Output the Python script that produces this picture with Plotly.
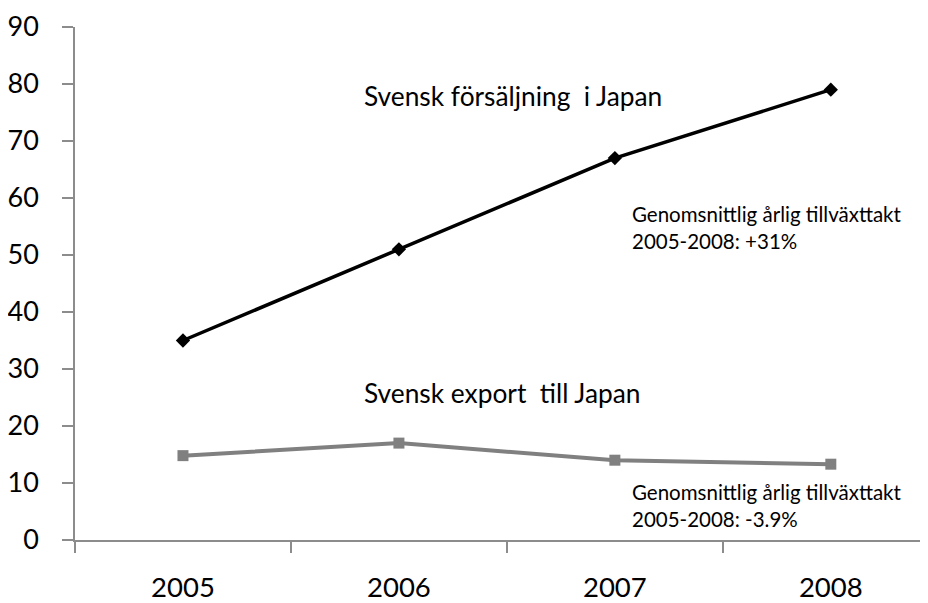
import plotly.graph_objects as go

years = ["2005", "2006", "2007", "2008"]
sales_japan = [35, 51, 67, 79]
export_japan = [14.8, 17, 14, 13.3]
y_ticks = [0, 10, 20, 30, 40, 50, 60, 70, 80, 90]

FONT = "Lato, Open Sans, sans-serif"

fig = go.Figure()
fig.add_trace(go.Scatter(
    x=years, y=sales_japan, mode="lines+markers",
    line=dict(color="#000000", width=3.5),
    marker=dict(symbol="diamond", size=11, color="#000000"),
    showlegend=False, hoverinfo="skip"))
fig.add_trace(go.Scatter(
    x=years, y=export_japan, mode="lines+markers",
    line=dict(color="#808080", width=4),
    marker=dict(symbol="square", size=11, color="#808080"),
    showlegend=False, hoverinfo="skip"))

fig.update_layout(
    width=920, height=595,
    margin=dict(l=67, r=0, t=19, b=63, autoexpand=False),
    plot_bgcolor="white", paper_bgcolor="white",
    font=dict(family=FONT, color="#000000"),
    xaxis=dict(
        type="category", range=[-0.5, 3.45], automargin=False,
        showline=True, linecolor="#8c8c8c", linewidth=1.5,
        ticks="outside", ticklen=11, tickcolor="#8c8c8c", tickwidth=1.5,
        tickson="boundaries", showgrid=False, zeroline=False,
        tickfont=dict(size=27.5, family=FONT), ticklabelstandoff=22),
    yaxis=dict(
        range=[0, 90], tickvals=y_ticks, automargin=False,
        showline=True, linecolor="#8c8c8c", linewidth=1.5,
        ticks="outside", ticklen=11, tickcolor="#8c8c8c", tickwidth=1.5,
        showgrid=False, zeroline=False,
        tickfont=dict(size=27, family=FONT), ticklabelstandoff=18),
)

def note(x, y, text, size):
    fig.add_annotation(x=x, y=y, xref="paper", yref="paper", text=text,
                       showarrow=False, xanchor="left", yanchor="middle",
                       align="left", font=dict(size=size, family=FONT, color="#000000"))

# page coordinates -> paper fractions (plot area spans x 75..928, y 27..540 on page)
W, H = 853, 513
def px(x): return (x - 75) / W
def py(y): return (540 - y) / H

note(px(362), py(96), "Svensk försäljning  i Japan", 26.3)
note(px(362), py(393), "Svensk export  till Japan", 26.3)
note(px(630), py(227), "Genomsnittlig årlig tillväxttakt<br>2005-2008: +31%", 20.5)
note(px(630), py(505), "Genomsnittlig årlig tillväxttakt<br>2005-2008: -3.9%", 20.5)

fig.write_html("out.html")
